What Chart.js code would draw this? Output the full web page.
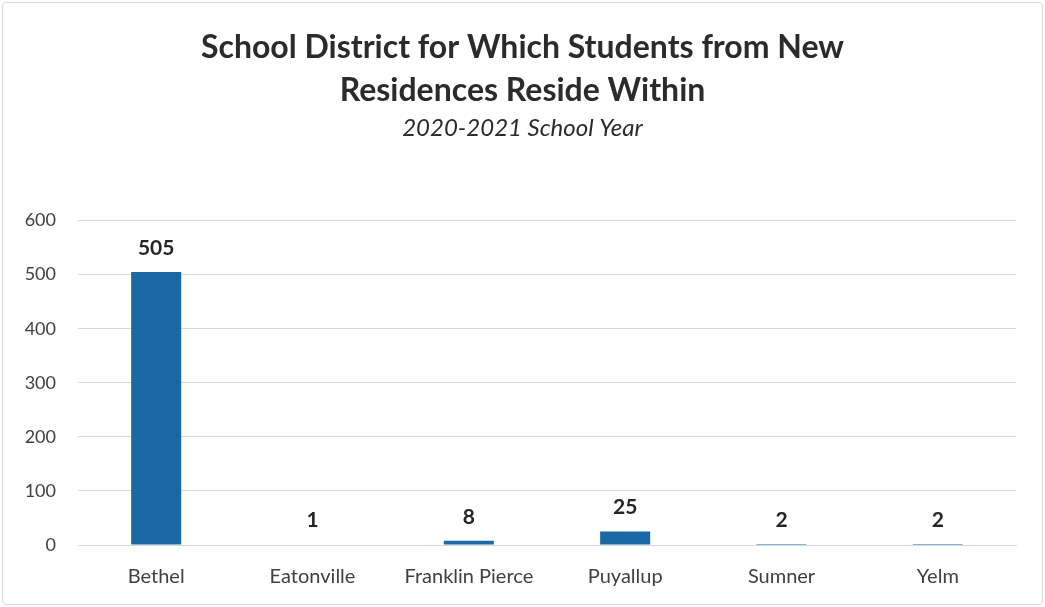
<!DOCTYPE html>
<html>
<head>
<meta charset="utf-8">
<script src="https://cdn.jsdelivr.net/npm/chart.js@4"></script>
<style>
  html, body { margin: 0; padding: 0; background: #ffffff; }
  #wrap { position: relative; width: 1045px; height: 607px; }
  #frame { position: absolute; left: 2px; top: 2px; width: 1041px; height: 603px;
           box-sizing: border-box; border: 1.5px solid #d9d9d9; border-radius: 4px; pointer-events: none; }
  canvas { position: absolute; left: 0; top: 0; }
</style>
</head>
<body>
<div id="wrap">
  <canvas id="chart" width="1045" height="607"></canvas>
  <div id="frame"></div>
</div>
<script>
// Districts and student counts
const districts = ['Bethel', 'Eatonville', 'Franklin Pierce', 'Puyallup', 'Sumner', 'Yelm'];
const students = [505, 1, 8, 25, 2, 2];
const yTicks = [0, 100, 200, 300, 400, 500, 600];

const titleLines = ['School District for Which Students from New', 'Residences Reside Within'];
const subtitleText = '2020-2021 School Year';

const FONT = 'Lato, "Open Sans", sans-serif';
const TEXT = '#404040';

// Value labels drawn just above each bar
const valueLabels = {
  id: 'valueLabels',
  afterDatasetsDraw(chart) {
    const ctx = chart.ctx;
    const meta = chart.getDatasetMeta(0);
    ctx.save();
    ctx.font = 'bold 21px ' + FONT;
    ctx.fillStyle = '#262626';
    ctx.textAlign = 'center';
    ctx.textBaseline = 'alphabetic';
    meta.data.forEach((bar, i) => {
      ctx.fillText(String(chart.data.datasets[0].data[i]), bar.x, bar.y - 17);
    });
    ctx.restore();
  }
};

new Chart(document.getElementById('chart'), {
  type: 'bar',
  data: {
    labels: districts,
    datasets: [{
      data: students,
      backgroundColor: '#1b68a6',
      borderWidth: 0,
      barPercentage: 0.64,
      categoryPercentage: 0.5
    }]
  },
  options: {
    responsive: false,
    animation: false,
    events: [],
    layout: { padding: 0 },
    plugins: {
      legend: { display: false },
      tooltip: { enabled: false },
      title: {
        display: true,
        text: titleLines,
        color: '#2b2b2b',
        font: { family: FONT, size: 32, weight: 'bold', lineHeight: 1.34 },
        padding: { top: 26, bottom: 2 }
      },
      subtitle: {
        display: true,
        text: subtitleText,
        color: '#2b2b2b',
        font: { family: FONT, size: 24, style: 'italic', lineHeight: 1.2 },
        padding: { top: 0, bottom: 78 }
      }
    },
    scales: {
      x: {
        afterFit(scale) { scale.height = 62; },
        grid: { display: false, drawTicks: false },
        border: { display: true, color: '#d9d9d9', width: 1 },
        ticks: { color: TEXT, font: { family: FONT, size: 20 }, padding: 20 }
      },
      y: {
        min: 0,
        max: 600,
        afterBuildTicks(scale) { scale.ticks = yTicks.map(v => ({ value: v })); },
        afterFit(scale) { scale.width = 78; },
        grid: { color: '#d9d9d9', lineWidth: 1, drawTicks: false },
        border: { display: false },
        ticks: { color: TEXT, font: { family: FONT, size: 18 }, padding: 22 }
      },
      // empty right-hand margin so the plot ends short of the frame
      yMargin: {
        position: 'right',
        min: 0,
        max: 600,
        afterFit(scale) { scale.width = 29; },
        grid: { display: false, drawTicks: false },
        border: { display: false },
        ticks: { display: false }
      }
    }
  },
  plugins: [valueLabels]
});
</script>
</body>
</html>
